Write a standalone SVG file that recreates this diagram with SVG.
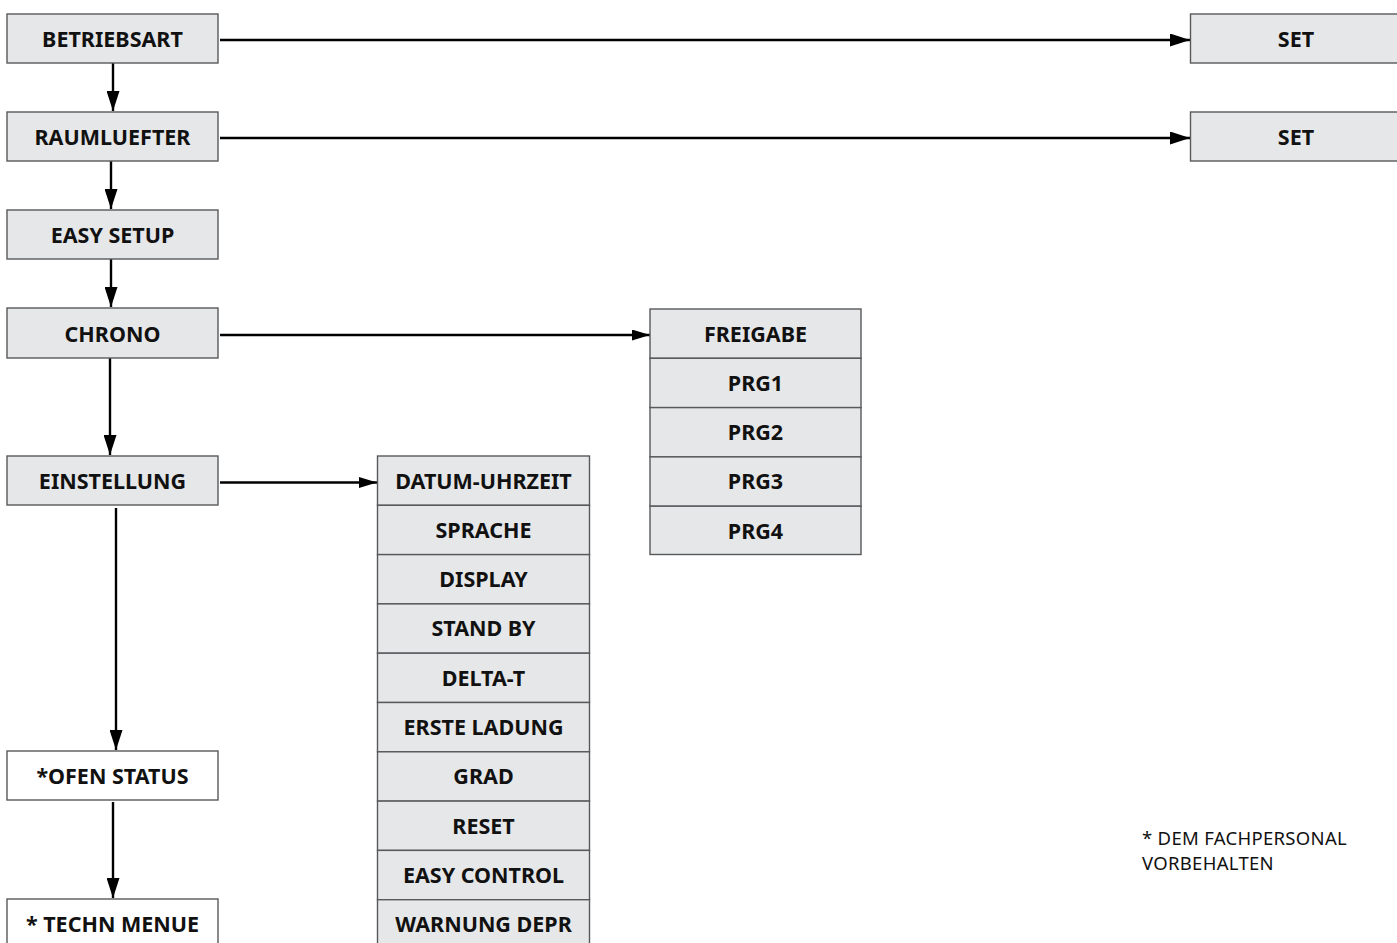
<svg xmlns="http://www.w3.org/2000/svg" width="1397" height="943" viewBox="0 0 1397 943">
<style>
.b{fill:#e6e7e8;stroke:#58595b;stroke-width:1.4}
.w{fill:#ffffff;stroke:#58595b;stroke-width:1.4}
.t{font-family:"Noto Sans","Liberation Sans",sans-serif;font-weight:bold;font-size:21.5px;fill:#111;text-anchor:middle}
.n{font-family:"Noto Sans","Liberation Sans",sans-serif;font-size:18.5px;letter-spacing:0.3px;fill:#111}
.c{stroke:#000;stroke-width:2.4;fill:none}
</style>
<defs>
<marker id="ah" markerWidth="20" markerHeight="13" refX="20" refY="6.5" orient="auto" markerUnits="userSpaceOnUse">
<path d="M0,0 L20,6.5 L0,13 Z" fill="#000"/>
</marker>
<marker id="as" markerWidth="18" markerHeight="11" refX="18" refY="5.5" orient="auto" markerUnits="userSpaceOnUse">
<path d="M0,0 L18,5.5 L0,11 Z" fill="#000"/>
</marker>
</defs>
<rect width="1397" height="943" fill="#fff"/>
<g id="connectors">
<line class="c" x1="220" y1="40" x2="1190" y2="40" marker-end="url(#ah)"/>
<line class="c" x1="220" y1="138" x2="1190" y2="138" marker-end="url(#ah)"/>
<line class="c" x1="220" y1="335" x2="650" y2="335" marker-end="url(#as)"/>
<line class="c" x1="220" y1="482.5" x2="377" y2="482.5" marker-end="url(#as)"/>
<line class="c" x1="113" y1="63" x2="113" y2="111" marker-end="url(#ah)"/>
<line class="c" x1="111" y1="161" x2="111" y2="209" marker-end="url(#ah)"/>
<line class="c" x1="111" y1="259" x2="111" y2="307" marker-end="url(#ah)"/>
<line class="c" x1="110" y1="358" x2="110" y2="455" marker-end="url(#ah)"/>
<line class="c" x1="116" y1="508" x2="116" y2="750" marker-end="url(#ah)"/>
<line class="c" x1="113" y1="802" x2="113" y2="898" marker-end="url(#ah)"/>
</g>
<g id="betriebsart"><rect class="b" x="7" y="14" width="211" height="49"/><text class="t" x="112.5" y="46.5">BETRIEBSART</text></g>
<g id="raumluefter"><rect class="b" x="7" y="112" width="211" height="49"/><text class="t" x="112.5" y="144.5">RAUMLUEFTER</text></g>
<g id="easysetup"><rect class="b" x="7" y="210" width="211" height="49"/><text class="t" x="112.5" y="242.5">EASY SETUP</text></g>
<g id="chrono"><rect class="b" x="7" y="308" width="211" height="50"/><text class="t" x="112.5" y="341.5">CHRONO</text></g>
<g id="einstellung"><rect class="b" x="7" y="456" width="211" height="49"/><text class="t" x="112.5" y="489">EINSTELLUNG</text></g>
<g id="ofenstatus"><rect class="w" x="7" y="751" width="211" height="49"/><text class="t" x="112.5" y="783.5">*OFEN STATUS</text></g>
<g id="technmenue"><rect class="w" x="7" y="899" width="211" height="50"/><text class="t" x="112.5" y="931.5">* TECHN MENUE</text></g>
<g id="set1"><rect class="b" x="1190.5" y="14" width="215" height="49"/><text class="t" x="1296" y="46.5">SET</text></g>
<g id="set2"><rect class="b" x="1190.5" y="112" width="215" height="49"/><text class="t" x="1296" y="144.5">SET</text></g>
<g id="chrono-menu">
<rect class="b" x="650" y="309" width="211" height="49.3"/><text class="t" x="755.5" y="341.5">FREIGABE</text>
<rect class="b" x="650" y="358.3" width="211" height="49.3"/><text class="t" x="755.5" y="390.5">PRG1</text>
<rect class="b" x="650" y="407.6" width="211" height="49.3"/><text class="t" x="755.5" y="439.5">PRG2</text>
<rect class="b" x="650" y="456.9" width="211" height="49.3"/><text class="t" x="755.5" y="489">PRG3</text>
<rect class="b" x="650" y="506.2" width="211" height="48.3"/><text class="t" x="755.5" y="538.5">PRG4</text>
</g>
<g id="einstellung-menu">
<rect class="b" x="377.5" y="456" width="212" height="49.3"/><text class="t" x="483.5" y="488.5">DATUM-UHRZEIT</text>
<rect class="b" x="377.5" y="505.3" width="212" height="49.3"/><text class="t" x="483.5" y="537.5">SPRACHE</text>
<rect class="b" x="377.5" y="554.6" width="212" height="49.3"/><text class="t" x="483.5" y="587">DISPLAY</text>
<rect class="b" x="377.5" y="603.9" width="212" height="49.3"/><text class="t" x="483.5" y="636">STAND BY</text>
<rect class="b" x="377.5" y="653.2" width="212" height="49.3"/><text class="t" x="483.5" y="685.5">DELTA-T</text>
<rect class="b" x="377.5" y="702.5" width="212" height="49.3"/><text class="t" x="483.5" y="735">ERSTE LADUNG</text>
<rect class="b" x="377.5" y="751.8" width="212" height="49.3"/><text class="t" x="483.5" y="784">GRAD</text>
<rect class="b" x="377.5" y="801.1" width="212" height="49.3"/><text class="t" x="483.5" y="833.5">RESET</text>
<rect class="b" x="377.5" y="850.4" width="212" height="49.3"/><text class="t" x="483.5" y="882.5">EASY CONTROL</text>
<rect class="b" x="377.5" y="899.7" width="212" height="49.3"/><text class="t" x="483.5" y="932">WARNUNG DEPR</text>
</g>
<g id="note">
<text class="n" x="1142" y="845">* DEM FACHPERSONAL</text>
<text class="n" x="1142" y="870">VORBEHALTEN</text>
</g>
</svg>
